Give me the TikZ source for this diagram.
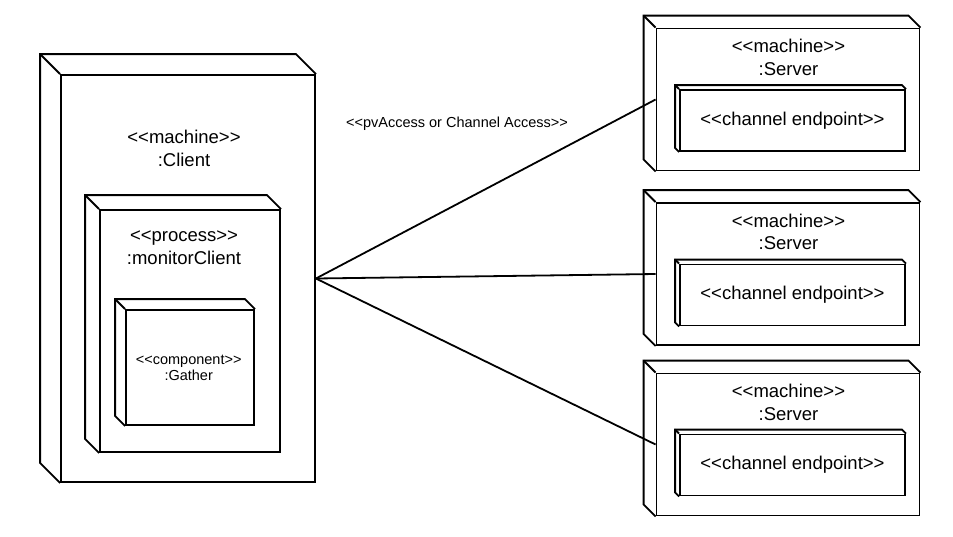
\documentclass[tikz,border=0pt]{standalone}
\usepackage{fontspec}
\setmainfont{Liberation Sans}
\usetikzlibrary{positioning, calc}

% stereotype text, kern keeps << and >> from turning into guillemets
\newcommand{\stereo}[1]{<\kern0pt<#1>\kern0pt>}
% back edges of a 3d node box
\newcommand{\depthof}[2]{%
  \draw[edge] (#1.south west) -- ++(-#2,-#2) |- ($(#1.north east)+(-#2,-#2)$) -- (#1.north east);
  \draw[edge] (#1.north west) -- ++(-#2,-#2);
}

\begin{document}
\begin{tikzpicture}[
        x=1pt, y=-1pt,
        edge/.style={line width=1.8pt, line join=miter},
        face/.style={draw, line width=1.8pt, fill=white, inner sep=0pt},
        title/.style={align=center, inner sep=0pt, anchor=north,
                      font=\fontsize{18.5}{22.6}\selectfont},
        small/.style={align=center, inner sep=0pt, anchor=north,
                      font=\fontsize{14.5}{16}\selectfont},
        endpoint/.style={face, minimum width=225pt, minimum height=61pt,
                         font=\fontsize{18.5}{22.6}\selectfont},
        server/.style={face, minimum width=263pt, minimum height=142pt},
        link/.style={line width=1.8pt}
      ]
        \useasboundingbox (0,0) rectangle (953,536);

        % client side
        \node[face, minimum width=254pt, minimum height=407pt] (client) at (188,278.5) {};
        \depthof{client}{20}
        \node[title] (clientname) at (184,130) {\stereo{machine}\\:Client};

        \node[face, minimum width=180pt, minimum height=242pt] (process) at (190,331) {};
        \depthof{process}{14}
        \node[title] (processname) at (184,230.5) {\stereo{process}\\:monitorClient};

        \node[face, minimum width=128pt, minimum height=115pt] (gather) at (190,367.5) {};
        \depthof{gather}{10}
        \node[small] (gathername) at (188.7,354.5) {\stereo{component}\\:Gather};

        % servers
        \node[server] (server1) at (788,99.5) {};
        \depthof{server1}{12}
        \node[title] (server1name) at (788.5,39) {\stereo{machine}\\:Server};
        \node[endpoint] (chan1) at (792.5,120.5) {\stereo{channel endpoint}};
        \depthof{chan1}{4}

        \node[server] (server2) at (788,274) {};
        \depthof{server2}{12}
        \node[title] (server2name) at (788.5,213.5) {\stereo{machine}\\:Server};
        \node[endpoint] (chan2) at (792.5,295) {\stereo{channel endpoint}};
        \depthof{chan2}{4}

        \node[server] (server3) at (788,444.5) {};
        \depthof{server3}{12}
        \node[title] (server3name) at (788.5,384) {\stereo{machine}\\:Server};
        \node[endpoint] (chan3) at (792.5,465) {\stereo{channel endpoint}};
        \depthof{chan3}{4}

        % links
        \node[font=\fontsize{14.5}{16}\selectfont] (proto) at (457,124) {\stereo{pvAccess or Channel Access}};
        \draw[link] (client.east) -- (server1.west);
        \draw[link] (client.east) -- (server2.west);
        \draw[link] (client.east) -- (server3.west);
      \end{tikzpicture}
\end{document}
